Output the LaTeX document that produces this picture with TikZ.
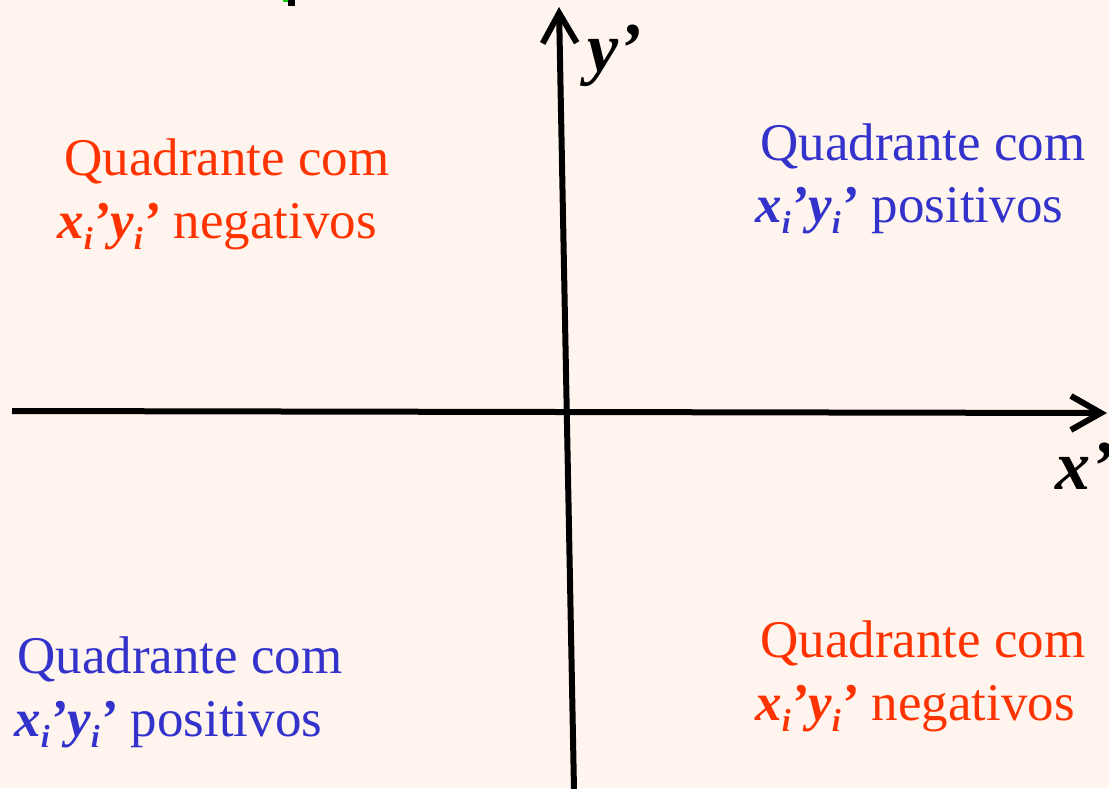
\documentclass[tikz,border=0pt]{standalone}
\usepackage{fontspec}
\setmainfont{Liberation Serif}
\usepackage{tikz}
\usetikzlibrary{positioning,arrows.meta}
\usepackage{xcolor}
\definecolor{bgpeach}{RGB}{255,245,238}
\definecolor{negred}{RGB}{255,51,0}
\definecolor{posblue}{RGB}{51,51,204}
\definecolor{markgreen}{RGB}{20,200,20}
\newcommand{\subi}{\raisebox{-5.5pt}{\fontsize{16}{18}\selectfont i}}
\newcommand{\xyprod}{\textbf{\textit{x\subi’y\subi’}}}

\begin{document}
\begin{tikzpicture}[x=0.5pt,y=-0.5pt,
  axis/.style={line width=3pt, -{Straight Barb[length=15pt,width=17pt]}},
  quad/.style={anchor=base west, inner sep=0pt, font=\fontsize{26.5}{32}\selectfont},
  axlabel/.style={anchor=base west, inner sep=0pt, font=\fontsize{35}{40}\selectfont\bfseries\itshape}]
  % Background
  \fill[bgpeach] (0,0) rectangle (1109,788);
  \useasboundingbox (0,0) rectangle (1109,788);

  % Clipped mark at the top
  \fill[markgreen] (283,0) rectangle (291,2);
  \fill[black] (288,0) rectangle (295,6);

  % Axis
  \coordinate (xstart) at (12,411);
  \coordinate (xend) at (1107,413);
  \coordinate (ystart) at (574,790);
  \coordinate (yend) at (559,7);
  \draw[axis] (xstart) -- (xend);
  \draw[axis] (ystart) -- (yend);
  \node[axlabel] (ylab) at (587,71) {y’};
  \node[axlabel] (xlab) at (1055,489) {x’};

  % Regions
  \node[quad, negred] (tlA) at (64,175) {Quadrante com};
  \node[quad, negred] (tlB) at (57,238) {\xyprod{} negativos};
  \node[quad, posblue] (trA) at (760,160) {Quadrante com};
  \node[quad, posblue] (trB) at (755,222) {\xyprod{} positivos};
  \node[quad, posblue] (blA) at (17,673) {Quadrante com};
  \node[quad, posblue] (blB) at (14,736) {\xyprod{} positivos};
  \node[quad, negred] (brA) at (760,657) {Quadrante com};
  \node[quad, negred] (brB) at (755,720) {\xyprod{} negativos};
\end{tikzpicture}
\end{document}
